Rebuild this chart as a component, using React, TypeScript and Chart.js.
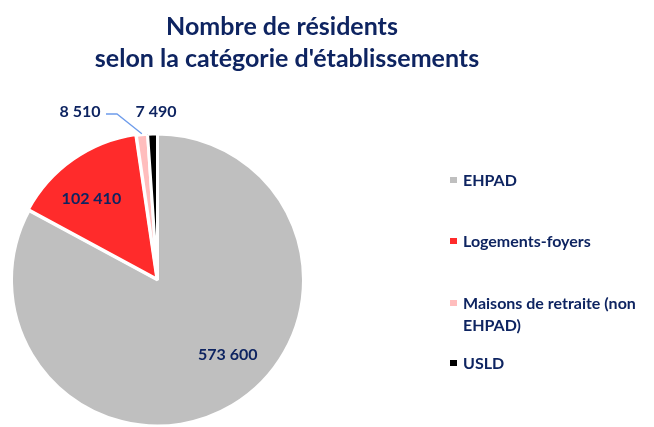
import React, { useEffect, useRef } from "react";
import { Chart, registerables } from "chart.js";

Chart.register(...registerables);

const categories = ["EHPAD", "Logements-foyers", "Maisons de retraite (non EHPAD)", "USLD"];
const legendLines = [["EHPAD"], ["Logements-foyers"], ["Maisons de retraite (non", "EHPAD)"], ["USLD"]];
const residents = [573600, 102410, 8510, 7490];
const valueLabels = ["573 600", "102 410", "8 510", "7 490"];
const sliceColors = ["#BFBFBF", "#FF2B2B", "#FFBDBD", "#000000"];
const titleLines = ["Nombre de résidents", "selon la catégorie d'établissements"];

const NAVY = "#0E2461";
const FONT = "Lato";

export default function App() {
  const ref = useRef<HTMLCanvasElement>(null);
  useEffect(() => {
    document.body.style.margin = "0";
    const canvas = ref.current!;
    const overlay = {
      id: "overlay",
      afterDraw(chart: any) {
        const ctx = chart.ctx as CanvasRenderingContext2D;
        ctx.save();
        ctx.fillStyle = NAVY;
        ctx.textBaseline = "alphabetic";
        // title
        ctx.textAlign = "center";
        ctx.font = `bold 25px ${FONT}`;
        ctx.fillText(titleLines[0], 282, 35);
        ctx.fillText(titleLines[1], 287, 67);
        // legend
        const legendBase = [186, 247, 309, 369];
        ctx.textAlign = "left";
        ctx.font = `bold 16px ${FONT}`;
        legendLines.forEach((lines, i) => {
          ctx.fillStyle = sliceColors[i];
          ctx.fillRect(450, legendBase[i] - 9, 7, 6);
          ctx.fillStyle = NAVY;
          lines.forEach((t, j) => ctx.fillText(t, 463, legendBase[i] + j * 22));
        });
        // value labels
        const meta = chart.getDatasetMeta(0);
        const arcs = meta.data;
        const r = arcs[0].outerRadius;
        ctx.font = `bold 16px ${FONT}`;
        ctx.textAlign = "center";
        ctx.fillStyle = NAVY;
        const angleShift = [-0.22, -0.07, 0, 0];
        const radial = [0.7, 0.72, 0, 0];
        const fixed: Record<number, [number, number]> = { 2: [80, 116.5], 3: [156, 116.5] };
        arcs.forEach((a: any, i: number) => {
          let x: number, y: number;
          if (fixed[i]) {
            [x, y] = fixed[i];
          } else {
            const mid = (a.startAngle + a.endAngle) / 2 + angleShift[i];
            x = a.x + radial[i] * r * Math.cos(mid);
            y = a.y + radial[i] * r * Math.sin(mid) + 6;
          }
          ctx.fillText(valueLabels[i], x, y);
        });
        // leader line for the pink slice
        const p = arcs[2];
        const pm = (p.startAngle + p.endAngle) / 2;
        const ex = p.x + (r + 1) * Math.cos(pm);
        const ey = p.y + (r + 1) * Math.sin(pm);
        ctx.strokeStyle = "#6E9CEB";
        ctx.lineWidth = 1.3;
        ctx.beginPath();
        ctx.moveTo(106, 114);
        ctx.lineTo(117, 114);
        ctx.lineTo(ex, ey);
        ctx.stroke();
        ctx.restore();
      },
    };
    const chart = new Chart(canvas, {
      type: "pie",
      data: {
        labels: categories,
        datasets: [
          {
            data: residents,
            backgroundColor: sliceColors,
            borderColor: "#FFFFFF",
            borderWidth: 3,
            offset: [0, 4, 0, 0],
          },
        ],
      },
      options: {
        responsive: false,
        animation: false,
        layout: { padding: { left: 7, right: 346, top: 134, bottom: 1 } },
        radius: 146,
        plugins: {
          legend: { display: false },
          title: { display: false },
          tooltip: { enabled: false },
        },
      } as any,
      plugins: [overlay],
    });
    return () => chart.destroy();
  }, []);
  return <canvas ref={ref} width={654} height={427} style={{ display: "block" }} />;
}
